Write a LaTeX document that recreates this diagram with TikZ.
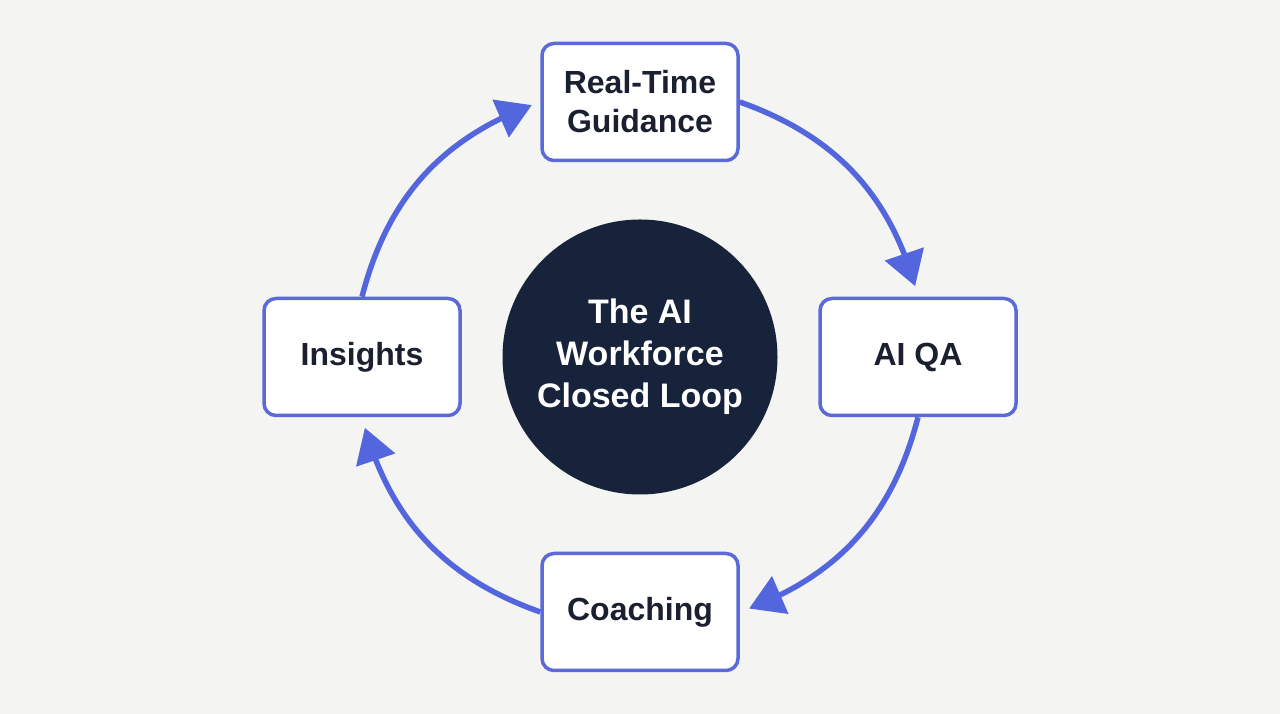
\documentclass[tikz,border=0pt]{standalone}
\usepackage{fontspec}
\setmainfont{Liberation Sans}
\usetikzlibrary{arrows.meta,bending}
\definecolor{bg}{HTML}{F4F4F2}
\definecolor{navy}{HTML}{17223B}
\definecolor{ink}{HTML}{1B2030}
\definecolor{loopblue}{HTML}{5466DE}
\definecolor{boxblue}{HTML}{5A6AD8}
\tikzset{
  stage/.style={draw=boxblue, line width=3.5pt, fill=white, rounded corners=12pt,
    minimum width=196pt, minimum height=117pt, align=center, inner sep=0pt,
    font=\fontsize{32}{39}\selectfont\bfseries, text=ink},
  hub/.style={circle, fill=navy, minimum size=275pt, inner sep=0pt, align=center,
    text=white, font=\fontsize{34}{42}\selectfont\bfseries},
  flow/.style={draw=loopblue, line width=5.5pt, -{Triangle[length=34pt,width=40pt]}},
}
\begin{document}
\begin{tikzpicture}[x=1pt,y=1pt]
\fill[bg] (0,0) rectangle (1280,714);
\useasboundingbox (0,0) rectangle (1280,714);
\node[hub] (hub) at (640,357) {The AI\\Workforce\\Closed Loop};
\node[stage] (rt) at (640,612) {Real-Time\\Guidance};
\node[stage] (qa) at (918,357) {AI QA};
\node[stage] (cb) at (640,102) {Coaching};
\node[stage] (in) at (362,357) {Insights};
\draw[flow, shorten >=11pt] (rt.east) to[bend left=28] (qa.north);
\draw[flow, shorten >=10pt] (qa.south) to[bend left=28] (cb.east);
\draw[flow, shorten >=11pt] (cb.west) to[bend left=28] (in.south);
\draw[flow, shorten >=9pt] (in.north) to[bend left=28] (rt.west);
\end{tikzpicture}
\end{document}
